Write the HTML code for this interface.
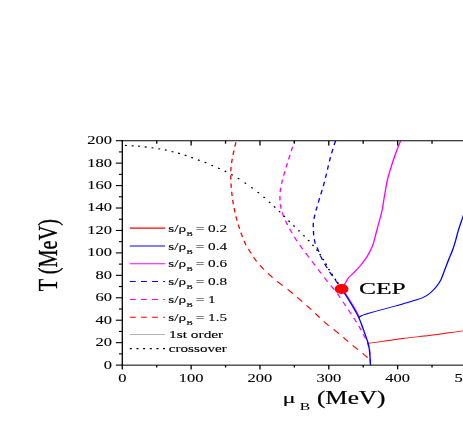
<!DOCTYPE html>
<html><head><meta charset="utf-8"><title>chart</title>
<style>html,body{margin:0;padding:0;background:#fff;}body{width:463px;height:436px;overflow:hidden;position:relative;font-family:"Liberation Serif",serif;}</style>
</head><body>
<svg width="463" height="436" viewBox="0 0 463 436" style="position:absolute;left:0;top:0;will-change:transform;font-family:'Liberation Serif',serif">
<rect width="463" height="436" fill="#fff"/>
<g transform="translate(122.3,0) scale(1.35,1)" fill="none" stroke-width="1.0" stroke-linejoin="round">
<path d="M181.85,343.40 C184.17,342.97 191.43,341.62 195.78,340.80 C200.12,339.98 203.93,339.20 207.93,338.50 C211.93,337.80 215.81,337.23 219.78,336.60 C223.74,335.97 228.00,335.33 231.70,334.70 C235.41,334.07 238.56,333.43 242.00,332.80 C245.44,332.17 249.78,331.37 252.37,330.90 C254.96,330.43 256.69,330.15 257.56,330.00" stroke="#ff0000" stroke-width="0.9"/>
<path d="M206.15,140.80 C205.58,142.75 203.83,148.50 202.74,152.50 C201.65,156.50 200.46,161.38 199.63,164.80 C198.80,168.22 198.33,170.42 197.78,173.00 C197.22,175.58 196.80,177.18 196.30,180.30 C195.79,183.42 195.17,188.42 194.74,191.70 C194.31,194.98 194.04,197.25 193.70,200.00 C193.37,202.75 193.15,205.37 192.74,208.20 C192.33,211.03 191.80,214.12 191.26,217.00 C190.72,219.88 190.07,222.57 189.48,225.50 C188.89,228.43 188.40,231.20 187.70,234.60 C187.01,238.00 186.32,242.42 185.33,245.90 C184.35,249.38 183.06,252.57 181.78,255.50 C180.49,258.43 179.31,260.68 177.63,263.50 C175.95,266.32 173.40,269.98 171.70,272.40 C170.01,274.82 168.56,276.23 167.48,278.00 C166.41,279.77 166.10,281.17 165.26,283.00 C164.42,284.83 162.91,288.00 162.44,289.00" stroke="#ff00ff"/>
<path d="M84.15,142.29 L84.09,142.64 L83.98,143.22 L83.87,143.84 L83.76,144.50 L83.63,145.19 L83.50,145.91 L83.37,146.66 L83.37,146.66 M82.71,150.50 L82.68,150.63 L82.55,151.44 L82.42,152.25 L82.29,153.05 L82.16,153.84 L82.04,154.62 L82.00,154.87 M81.47,158.71 L81.46,158.79 L81.38,159.42 L81.30,160.04 L81.23,160.65 L81.15,161.25 L81.08,161.85 L81.01,162.44 L80.95,163.03 L80.94,163.10 M80.58,166.94 L80.56,167.19 L80.52,167.81 L80.48,168.44 L80.44,169.08 L80.41,169.73 L80.39,170.40 L80.37,171.08 L80.36,171.33 M80.32,175.19 L80.32,175.54 L80.33,176.34 L80.34,177.15 L80.35,177.97 L80.37,178.80 L80.39,179.59 M80.52,183.45 L80.54,183.91 L80.58,184.78 L80.63,185.65 L80.67,186.52 L80.72,187.38 L80.75,187.84 M81.01,191.69 L81.07,192.50 L81.14,193.34 L81.21,194.17 L81.29,195.02 L81.36,195.86 L81.38,196.07 M81.78,199.92 L81.80,200.11 L81.89,200.96 L81.99,201.81 L82.09,202.66 L82.20,203.50 L82.30,204.30 M82.82,208.14 L82.87,208.50 L82.99,209.31 L83.11,210.12 L83.23,210.92 L83.35,211.71 L83.48,212.50 L83.48,212.52 M84.16,216.35 L84.17,216.39 L84.32,217.16 L84.47,217.92 L84.62,218.69 L84.78,219.44 L84.93,220.20 L85.04,220.72 M85.89,224.55 L85.90,224.59 L86.07,225.30 L86.23,226.00 L86.39,226.69 L86.55,227.37 L86.71,228.04 L86.87,228.71 L86.92,228.91 M87.88,232.74 L87.99,233.15 L88.15,233.77 L88.32,234.38 L88.49,234.98 L88.66,235.58 L88.82,236.17 L88.99,236.74 L89.09,237.10 M90.24,240.92 L90.24,240.92 L90.38,241.38 L90.51,241.81 L90.65,242.23 L90.77,242.62 L90.89,243.00 L91.00,243.34 L91.09,243.64 L91.17,243.90 L91.24,244.12 L91.30,244.31 L91.35,244.48 L91.40,244.62 L91.44,244.74 L91.47,244.85 L91.51,244.95 L91.55,245.04 L91.58,245.12 L91.62,245.22 L91.65,245.26 M93.46,249.06 L93.61,249.39 L93.86,249.94 L94.12,250.51 L94.38,251.11 L94.66,251.72 L94.95,252.36 L95.25,253.01 L95.42,253.39 M97.24,257.18 L97.55,257.81 L97.91,258.50 L98.27,259.19 L98.63,259.88 L99.01,260.55 L99.38,261.22 L99.55,261.50 M101.94,265.27 L102.19,265.65 L102.62,266.28 L103.06,266.91 L103.51,267.55 L103.96,268.18 L104.42,268.81 L104.89,269.45 L104.97,269.57 M107.85,273.32 L108.26,273.84 L108.76,274.46 L109.26,275.07 L109.76,275.68 L110.26,276.29 L110.76,276.90 L111.26,277.50 L111.34,277.60 M114.69,281.34 L114.90,281.56 L115.44,282.13 L115.98,282.69 L116.53,283.25 L117.08,283.82 L117.62,284.38 L118.18,284.93 L118.73,285.50 L118.82,285.59 M122.43,289.32 L122.59,289.48 L123.14,290.06 L123.68,290.65 L124.22,291.25 L124.76,291.85 L125.30,292.45 L125.84,293.06 L126.31,293.58 M129.60,297.32 L129.62,297.35 L130.16,297.97 L130.70,298.59 L131.24,299.22 L131.78,299.85 L132.32,300.48 L132.86,301.11 L133.27,301.59 M136.42,305.33 L136.65,305.60 L137.19,306.25 L137.73,306.91 L138.29,307.59 L138.85,308.29 L139.43,309.00 L139.91,309.61 M142.89,313.36 L142.95,313.44 L143.53,314.18 L144.11,314.92 L144.68,315.65 L145.25,316.37 L145.81,317.08 L146.25,317.64 M149.24,321.39 L149.32,321.49 L149.74,322.01 L150.15,322.50 L150.53,322.95 L150.88,323.37 L151.22,323.76 L151.53,324.12 L151.82,324.45 L152.10,324.75 L152.36,325.04 L152.60,325.30 L152.83,325.55 L152.94,325.66 M156.54,329.39 L156.78,329.65 L157.04,329.93 L157.30,330.22 L157.57,330.51 L157.83,330.80 L158.10,331.09 L158.37,331.38 L158.64,331.68 L158.90,331.97 L159.18,332.27 L159.45,332.57 L159.72,332.87 L160.00,333.17 L160.27,333.48 L160.42,333.65 M163.72,337.39 L163.97,337.68 L164.27,338.03 L164.56,338.38 L164.86,338.73 L165.16,339.09 L165.46,339.45 L165.76,339.80 L166.06,340.16 L166.37,340.52 L166.67,340.88 L166.97,341.24 L167.28,341.60 L167.33,341.66 M170.61,345.40 L170.63,345.42 L170.94,345.77 L171.26,346.11 L171.58,346.46 L171.90,346.81 L172.23,347.15 L172.55,347.50 L172.87,347.84 L173.19,348.18 L173.51,348.52 L173.83,348.85 L174.14,349.19 L174.45,349.51 L174.59,349.66 M178.04,353.39 L178.09,353.44 L178.30,353.68 L178.50,353.90 L178.70,354.12 L178.89,354.34 L179.08,354.55 L179.26,354.75 L179.44,354.96 L179.61,355.15 L179.78,355.35 L179.94,355.54 L180.10,355.72 L180.26,355.90 L180.41,356.08 L180.56,356.26 L180.71,356.43 L180.85,356.60 L180.99,356.77 L181.13,356.94 L181.26,357.10 L181.39,357.26 L181.52,357.42 L181.64,357.58 L181.70,357.66" stroke="#ff0000"/>
<path d="M127.63,140.80 L127.51,141.29 L127.38,141.85 L127.22,142.49 L127.12,142.92 M126.19,146.75 L126.03,147.42 L125.79,148.39 L125.55,149.38 L125.31,150.40 L125.13,151.11 M124.22,154.94 L124.05,155.64 L123.80,156.69 L123.56,157.72 L123.32,158.73 L123.18,159.30 M122.30,163.13 L122.25,163.37 L122.05,164.25 L121.84,165.13 L121.64,166.02 L121.44,166.91 L121.31,167.49 M120.44,171.32 L120.44,171.33 L120.25,172.21 L120.06,173.07 L119.87,173.93 L119.68,174.78 L119.50,175.62 L119.49,175.69 M118.70,179.52 L118.68,179.62 L118.54,180.37 L118.40,181.10 L118.27,181.81 L118.15,182.50 L118.03,183.16 L117.93,183.80 L117.91,183.89 M117.34,187.73 L117.34,187.74 L117.28,188.24 L117.22,188.73 L117.17,189.22 L117.12,189.70 L117.08,190.17 L117.04,190.64 L117.00,191.11 L116.97,191.58 L116.94,192.05 L116.93,192.11 M116.79,195.97 L116.79,196.04 L116.78,196.55 L116.78,197.07 L116.77,197.58 L116.77,198.10 L116.78,198.61 L116.78,199.12 L116.79,199.63 L116.80,200.15 L116.81,200.37 M117.06,204.22 L117.06,204.29 L117.12,204.81 L117.18,205.34 L117.25,205.88 L117.32,206.41 L117.40,206.96 L117.48,207.50 L117.57,208.05 L117.66,208.59 L117.67,208.60 M118.45,212.43 L118.57,212.95 L118.71,213.50 L118.85,214.06 L118.99,214.62 L119.15,215.19 L119.31,215.76 L119.47,216.34 L119.60,216.79 M120.82,220.60 L120.82,220.60 L121.04,221.25 L121.27,221.91 L121.51,222.59 L121.77,223.29 L122.04,224.01 L122.32,224.74 L122.40,224.95 M123.93,228.75 L124.16,229.30 L124.48,230.08 L124.81,230.85 L125.14,231.62 L125.47,232.39 L125.77,233.09 M127.45,236.88 L127.71,237.45 L128.00,238.11 L128.30,238.75 L128.58,239.36 L128.86,239.95 L129.13,240.53 L129.39,241.08 L129.46,241.21 M131.40,245.00 L131.44,245.08 L131.69,245.55 L131.95,246.03 L132.21,246.51 L132.47,246.99 L132.74,247.48 L133.02,247.98 L133.30,248.49 L133.58,249.01 L133.75,249.32 M135.84,253.10 L135.84,253.12 L136.21,253.77 L136.58,254.43 L136.96,255.11 L137.34,255.79 L137.73,256.48 L138.13,257.18 L138.26,257.42 M140.41,261.20 L140.54,261.42 L140.94,262.13 L141.34,262.83 L141.74,263.53 L142.13,264.21 L142.52,264.89 L142.87,265.51 M145.01,269.29 L145.06,269.38 L145.41,270.01 L145.77,270.64 L146.12,271.26 L146.47,271.89 L146.81,272.51 L147.16,273.12 L147.43,273.61 M149.56,277.39 L149.78,277.78 L150.09,278.32 L150.39,278.85 L150.68,279.36 L150.97,279.85 L151.25,280.34 L151.52,280.80 L151.78,281.25 L152.03,281.68 L152.04,281.70 M154.37,285.48 L154.40,285.52 L154.59,285.81 L154.77,286.08 L154.94,286.36 L155.11,286.62 L155.28,286.88 L155.44,287.13 L155.60,287.38 L155.76,287.63 L155.92,287.88 L156.07,288.12 L156.22,288.36 L156.37,288.60 L156.51,288.83 L156.65,289.05 L156.77,289.24 L156.89,289.43 L156.99,289.60 L157.10,289.76 L157.11,289.78 M159.29,293.56 L159.37,293.70 L159.54,294.03 L159.72,294.38 L159.90,294.73 L160.09,295.10 L160.29,295.47 L160.48,295.86 L160.68,296.25 L160.88,296.65 L161.09,297.05 L161.29,297.46 L161.50,297.86 L161.51,297.88 M163.42,301.67 L163.48,301.80 L163.66,302.16 L163.84,302.51 L164.02,302.86 L164.19,303.21 L164.36,303.56 L164.54,303.90 L164.71,304.25 L164.88,304.59 L165.05,304.93 L165.22,305.27 L165.38,305.61 L165.55,305.94 L165.57,305.99 M167.45,309.78 L167.56,310.00 L167.73,310.34 L167.90,310.69 L168.06,311.03 L168.23,311.37 L168.40,311.71 L168.57,312.05 L168.74,312.40 L168.91,312.74 L169.08,313.08 L169.25,313.42 L169.42,313.76 L169.59,314.11 L169.59,314.11 M171.44,317.90 L171.46,317.94 L171.63,318.30 L171.80,318.66 L171.97,319.02 L172.14,319.38 L172.31,319.75 L172.49,320.11 L172.66,320.48 L172.83,320.85 L173.01,321.22 L173.18,321.59 L173.35,321.97 L173.47,322.23 M175.19,326.03 L175.22,326.08 L175.38,326.46 L175.54,326.83 L175.70,327.20 L175.86,327.57 L176.02,327.95 L176.18,328.33 L176.34,328.71 L176.50,329.09 L176.66,329.47 L176.81,329.86 L176.97,330.24 L177.02,330.36 M178.52,334.17 L178.60,334.38 L178.74,334.73 L178.88,335.08 L179.01,335.43 L179.13,335.77 L179.26,336.10 L179.38,336.43 L179.50,336.75 L179.62,337.06 L179.74,337.37 L179.85,337.67 L179.96,337.98 L180.07,338.27 L180.16,338.51 M181.44,342.32 L181.47,342.45 L181.55,342.72 L181.63,343.00 L181.70,343.28 L181.78,343.56 L181.85,343.84 L181.91,344.12 L181.98,344.40 L182.04,344.67 L182.10,344.95 L182.16,345.23 L182.22,345.51 L182.27,345.78 L182.32,346.06 L182.37,346.33 L182.42,346.60 L182.44,346.69 M183.03,350.52 L183.05,350.65 L183.07,350.86 L183.10,351.07 L183.12,351.27 L183.14,351.47 L183.16,351.67 L183.18,351.88 L183.20,352.08 L183.22,352.29 L183.23,352.50 L183.25,352.72 L183.27,352.94 L183.28,353.17 L183.30,353.41 L183.32,353.66 L183.33,353.92 L183.35,354.20 L183.37,354.48 L183.39,354.78 L183.40,354.91 M183.59,358.76 L183.60,358.97 L183.62,359.46 L183.64,359.96 L183.66,360.45 L183.68,360.94 L183.70,361.42 L183.72,361.89 L183.74,362.34 L183.76,362.78 L183.77,363.16" stroke="#ff00ff"/>
<path d="M163.00,288.75 C163.60,289.97 165.35,293.35 166.63,296.05 C167.91,298.75 169.58,302.42 170.70,304.95 C171.83,307.48 172.52,309.15 173.37,311.25 C174.22,313.35 175.41,316.50 175.81,317.55" stroke="#ff00ff" stroke-width="0.8"/>
<path d="M162.44,289.00 C163.05,290.22 164.79,293.60 166.07,296.30 C167.36,299.00 169.02,302.67 170.15,305.20 C171.27,307.73 171.96,309.40 172.81,311.50 C173.67,313.60 174.52,315.63 175.26,317.80 C176.00,319.97 176.63,322.25 177.26,324.50 C177.89,326.75 178.44,329.05 179.04,331.30 C179.63,333.55 180.30,335.98 180.81,338.00 C181.33,340.02 181.78,341.48 182.15,343.40 C182.52,345.32 182.83,347.55 183.04,349.50 C183.25,351.45 183.27,352.50 183.41,355.10 C183.54,357.70 183.78,363.43 183.85,365.10" stroke="#0000ff"/>
<path d="M175.26,317.80 L176.22,316.50 L178.15,315.10" stroke="#0000ff"/>
<path d="M178.15,315.10 C178.79,314.83 179.77,314.37 182.00,313.50 C184.23,312.63 188.36,311.08 191.56,309.90 C194.75,308.72 197.99,307.58 201.19,306.40 C204.38,305.22 208.14,303.83 210.74,302.80 C213.35,301.77 214.98,300.98 216.81,300.20 C218.65,299.42 220.30,298.92 221.78,298.10 C223.26,297.28 224.52,296.32 225.70,295.30 C226.89,294.28 227.72,293.47 228.89,292.00 C230.06,290.53 231.54,288.57 232.74,286.50 C233.94,284.43 235.10,282.25 236.07,279.60 C237.05,276.95 237.67,273.87 238.59,270.60 C239.52,267.33 240.62,263.43 241.63,260.00 C242.64,256.57 243.80,253.17 244.67,250.00 C245.53,246.83 246.11,244.25 246.81,241.00 C247.52,237.75 247.96,234.58 248.89,230.50 C249.81,226.42 250.93,222.25 252.37,216.50 C253.81,210.75 256.69,199.42 257.56,196.00" stroke="#0000ff"/>
<path d="M157.93,140.80 L157.84,141.17 L157.75,141.58 L157.64,142.03 L157.52,142.52 L157.40,143.05 L157.26,143.61 L157.12,144.20 L156.97,144.82 L156.91,145.10 M156.01,148.93 L155.97,149.11 L155.79,149.90 L155.60,150.70 L155.42,151.52 L155.23,152.35 L155.05,153.19 L155.03,153.30 M154.22,157.13 L154.15,157.50 L153.97,158.39 L153.80,159.31 L153.62,160.26 L153.44,161.24 L153.39,161.50 M152.71,165.33 L152.69,165.40 L152.50,166.49 L152.31,167.58 L152.12,168.68 L151.95,169.70 M151.28,173.54 L151.16,174.23 L150.96,175.32 L150.77,176.41 L150.58,177.48 L150.50,177.91 M149.78,181.75 L149.63,182.50 L149.44,183.43 L149.25,184.35 L149.06,185.26 L148.88,186.11 M148.03,189.94 L147.91,190.48 L147.72,191.31 L147.53,192.15 L147.34,192.97 L147.15,193.79 L147.02,194.31 M146.14,198.14 L146.04,198.58 L145.86,199.37 L145.69,200.15 L145.52,200.94 L145.35,201.72 L145.19,202.50 L145.18,202.50 M144.37,206.33 L144.36,206.39 L144.19,207.17 L144.03,207.94 L143.86,208.70 L143.70,209.47 L143.54,210.22 L143.44,210.70 M142.68,214.53 L142.66,214.63 L142.53,215.34 L142.41,216.04 L142.29,216.72 L142.18,217.40 L142.08,218.07 L141.98,218.72 L141.96,218.91 M141.56,222.75 L141.55,222.97 L141.51,223.54 L141.49,224.09 L141.47,224.63 L141.46,225.16 L141.45,225.69 L141.44,226.21 L141.44,226.72 L141.45,227.15 M141.57,231.00 L141.57,231.09 L141.59,231.56 L141.61,232.03 L141.63,232.50 L141.65,232.97 L141.67,233.43 L141.70,233.90 L141.73,234.36 L141.76,234.82 L141.80,235.27 L141.81,235.39 M142.22,239.24 L142.27,239.56 L142.32,239.95 L142.38,240.34 L142.44,240.72 L142.50,241.09 L142.56,241.46 L142.62,241.81 L142.68,242.16 L142.74,242.50 L142.80,242.82 L142.86,243.12 L142.92,243.40 L142.97,243.61 M144.24,247.43 L144.27,247.51 L144.37,247.82 L144.48,248.15 L144.59,248.50 L144.71,248.87 L144.83,249.26 L144.95,249.67 L145.08,250.09 L145.21,250.52 L145.34,250.96 L145.48,251.42 L145.59,251.78 M146.76,255.60 L146.86,255.89 L147.02,256.41 L147.20,256.93 L147.37,257.44 L147.55,257.96 L147.73,258.48 L147.92,258.99 L148.11,259.50 L148.27,259.94 M149.83,263.74 L150.01,264.17 L150.24,264.70 L150.48,265.24 L150.72,265.78 L150.96,266.31 L151.20,266.85 L151.44,267.38 L151.69,267.92 L151.76,268.08 M153.55,271.87 L153.62,272.02 L153.85,272.50 L154.09,272.98 L154.32,273.46 L154.56,273.94 L154.81,274.42 L155.05,274.90 L155.30,275.37 L155.55,275.84 L155.73,276.19 M157.78,279.98 L157.97,280.33 L158.20,280.74 L158.41,281.14 L158.63,281.53 L158.83,281.92 L159.03,282.29 L159.22,282.65 L159.41,283.00 L159.58,283.34 L159.76,283.68 L159.93,284.01 L160.08,284.30 M161.99,288.09 L162.05,288.22 L162.14,288.40 L162.23,288.57 L162.31,288.72 L162.38,288.87 L162.44,289.00" stroke="#0000ff"/>
<path d="M1.95,145.34 L3.38,145.46 M6.91,145.74 L8.35,145.86 M11.73,146.11 L13.16,146.29 M16.62,146.88 L18.04,147.12 M21.66,147.77 L23.08,148.03 M26.63,148.74 L28.04,149.06 M31.53,149.90 L32.91,150.30 M36.50,151.47 L37.87,151.93 M41.33,153.14 L42.67,153.66 M46.23,155.11 L47.55,155.69 M51.06,157.38 L52.35,158.02 M56.02,159.88 L57.31,160.52 M60.92,162.16 L62.19,162.84 M65.97,165.14 L67.22,165.86 M70.94,167.93 L72.17,168.67 M75.81,171.00 L77.01,171.80 M80.68,174.37 L81.84,175.23 M85.60,178.24 L86.70,179.16 M90.58,182.61 L91.64,183.59 M95.64,187.39 L96.66,188.41 M100.25,192.07 L101.23,193.13 M104.57,196.85 L105.51,197.95 M108.66,201.74 L109.57,202.86 M112.41,206.43 L113.30,207.57 M116.08,211.13 L116.95,212.27 M119.57,215.82 L120.43,216.98 M123.12,220.62 L123.99,221.78 M126.75,225.43 L127.62,226.57 M130.45,230.33 L131.32,231.47 M134.16,235.22 L135.02,236.38 M137.70,240.01 L138.52,241.19 M140.87,244.74 L141.65,245.96 M143.87,249.47 L144.58,250.73 M146.24,254.05 L146.87,255.35 M148.58,258.95 L149.20,260.25 M150.76,263.54 L151.32,264.86 M152.83,268.94 L153.40,270.26 M155.10,273.65 L155.72,274.95 M157.46,278.75 L158.10,280.05 M159.29,282.26 L159.97,283.54" stroke="#000" stroke-width="1.15"/>
<path d="M5.56,228.1 H31.70" stroke="#ff0000" stroke-width="1.1"/>
<path d="M5.56,246.0 H31.70" stroke="#0000ff" stroke-width="1.1"/>
<path d="M5.56,263.7 H31.70" stroke="#ff00ff" stroke-width="1.1"/>
<path d="M5.56,281.45 H31.70" stroke="#0000ff" stroke-width="1.1" stroke-dasharray="4.4 3.85"/>
<path d="M5.56,299.45 H31.70" stroke="#ff00ff" stroke-width="1.1" stroke-dasharray="4.4 3.85"/>
<path d="M5.56,317.3 H31.70" stroke="#ff0000" stroke-width="1.1" stroke-dasharray="4.4 3.85"/>
<path d="M5.56,334.5 H31.70" stroke="#000" stroke-width="0.26"/>
<path d="M5.56,348.55 H31.70" stroke="#000" stroke-width="1.2" stroke-dasharray="1.5 3.43"/>
</g>
<ellipse cx="341.6" cy="289" rx="6.9" ry="5" fill="#ff0000"/>
<g stroke="#000" fill="none">
<path d="M122.3,140.14999999999998 V369.6" stroke-width="1.3"/>
<path d="M121.64999999999999,140.7 H463" stroke-width="1.1"/>
<path d="M121.64999999999999,365.15000000000003 H463" stroke-width="1.0"/>
<path d="M115.80,365.10 H122.3" stroke-width="1.1"/>
<path d="M118.90,353.88 H122.3" stroke-width="1.1"/>
<path d="M115.80,342.66 H122.3" stroke-width="1.1"/>
<path d="M118.90,331.44 H122.3" stroke-width="1.1"/>
<path d="M115.80,320.22 H122.3" stroke-width="1.1"/>
<path d="M118.90,309.00 H122.3" stroke-width="1.1"/>
<path d="M115.80,297.78 H122.3" stroke-width="1.1"/>
<path d="M118.90,286.56 H122.3" stroke-width="1.1"/>
<path d="M115.80,275.34 H122.3" stroke-width="1.1"/>
<path d="M118.90,264.12 H122.3" stroke-width="1.1"/>
<path d="M115.80,252.90 H122.3" stroke-width="1.1"/>
<path d="M118.90,241.68 H122.3" stroke-width="1.1"/>
<path d="M115.80,230.46 H122.3" stroke-width="1.1"/>
<path d="M118.90,219.24 H122.3" stroke-width="1.1"/>
<path d="M115.80,208.02 H122.3" stroke-width="1.1"/>
<path d="M118.90,196.80 H122.3" stroke-width="1.1"/>
<path d="M115.80,185.58 H122.3" stroke-width="1.1"/>
<path d="M118.90,174.36 H122.3" stroke-width="1.1"/>
<path d="M115.80,163.14 H122.3" stroke-width="1.1"/>
<path d="M118.90,151.92 H122.3" stroke-width="1.1"/>
<path d="M115.80,140.70 H122.3" stroke-width="1.1"/>
<path d="M156.72,365.1 V367.5" stroke-width="1.3"/>
<path d="M156.72,140.7 V143.7" stroke-width="1.3"/>
<path d="M191.13,365.1 V369.40000000000003" stroke-width="1.3"/>
<path d="M191.13,140.7 V145.54999999999998" stroke-width="1.3"/>
<path d="M225.55,365.1 V367.5" stroke-width="1.3"/>
<path d="M225.55,140.7 V143.7" stroke-width="1.3"/>
<path d="M259.96,365.1 V369.40000000000003" stroke-width="1.3"/>
<path d="M259.96,140.7 V145.54999999999998" stroke-width="1.3"/>
<path d="M294.38,365.1 V367.5" stroke-width="1.3"/>
<path d="M294.38,140.7 V143.7" stroke-width="1.3"/>
<path d="M328.79,365.1 V369.40000000000003" stroke-width="1.3"/>
<path d="M328.79,140.7 V145.54999999999998" stroke-width="1.3"/>
<path d="M363.20,365.1 V367.5" stroke-width="1.3"/>
<path d="M363.20,140.7 V143.7" stroke-width="1.3"/>
<path d="M397.62,365.1 V369.40000000000003" stroke-width="1.3"/>
<path d="M397.62,140.7 V145.54999999999998" stroke-width="1.3"/>
<path d="M432.04,365.1 V367.5" stroke-width="1.3"/>
<path d="M432.04,140.7 V143.7" stroke-width="1.3"/>
<path d="M466.45,365.1 V369.40000000000003" stroke-width="1.3"/>
<path d="M466.45,140.7 V145.54999999999998" stroke-width="1.3"/>
</g>
<text transform="translate(112.10,368.50) scale(1.31,1)" font-size="12.6" text-anchor="end" stroke="#000" stroke-width="0.1" >0</text>
<text transform="translate(112.10,346.06) scale(1.31,1)" font-size="12.6" text-anchor="end" stroke="#000" stroke-width="0.1" >20</text>
<text transform="translate(112.10,323.62) scale(1.31,1)" font-size="12.6" text-anchor="end" stroke="#000" stroke-width="0.1" >40</text>
<text transform="translate(112.10,301.18) scale(1.31,1)" font-size="12.6" text-anchor="end" stroke="#000" stroke-width="0.1" >60</text>
<text transform="translate(112.10,278.74) scale(1.31,1)" font-size="12.6" text-anchor="end" stroke="#000" stroke-width="0.1" >80</text>
<text transform="translate(112.10,256.30) scale(1.31,1)" font-size="12.6" text-anchor="end" stroke="#000" stroke-width="0.1" >100</text>
<text transform="translate(112.10,233.86) scale(1.31,1)" font-size="12.6" text-anchor="end" stroke="#000" stroke-width="0.1" >120</text>
<text transform="translate(112.10,211.42) scale(1.31,1)" font-size="12.6" text-anchor="end" stroke="#000" stroke-width="0.1" >140</text>
<text transform="translate(112.10,188.98) scale(1.31,1)" font-size="12.6" text-anchor="end" stroke="#000" stroke-width="0.1" >160</text>
<text transform="translate(112.10,166.54) scale(1.31,1)" font-size="12.6" text-anchor="end" stroke="#000" stroke-width="0.1" >180</text>
<text transform="translate(112.10,144.10) scale(1.31,1)" font-size="12.6" text-anchor="end" stroke="#000" stroke-width="0.1" >200</text>
<text transform="translate(122.30,382.20) scale(1.31,1)" font-size="12.6" text-anchor="middle" stroke="#000" stroke-width="0.1" >0</text>
<text transform="translate(191.13,382.20) scale(1.31,1)" font-size="12.6" text-anchor="middle" stroke="#000" stroke-width="0.1" >100</text>
<text transform="translate(259.96,382.20) scale(1.31,1)" font-size="12.6" text-anchor="middle" stroke="#000" stroke-width="0.1" >200</text>
<text transform="translate(328.79,382.20) scale(1.31,1)" font-size="12.6" text-anchor="middle" stroke="#000" stroke-width="0.1" >300</text>
<text transform="translate(397.62,382.20) scale(1.31,1)" font-size="12.6" text-anchor="middle" stroke="#000" stroke-width="0.1" >400</text>
<text transform="translate(454.50,382.20) scale(1.31,1)" font-size="12.6" text-anchor="start" stroke="#000" stroke-width="0.1" >5</text>
<text transform="translate(282.40,403.10) scale(1.6,1)" font-size="15.4" text-anchor="start" stroke="#000" stroke-width="0.1" >μ</text>
<text transform="translate(299.70,410.20) scale(1.43,1)" font-size="11" text-anchor="start" stroke="#000" stroke-width="0.05" >B</text>
<text transform="translate(316.90,403.60) scale(1.34,1)" font-size="18.8" text-anchor="start" stroke="#000" stroke-width="0.25" >(MeV)</text>
<text transform="translate(56.8,291.3) rotate(-90) scale(1,1.34)" font-size="20.3" stroke="#000" stroke-width="0.25">T (MeV)</text>
<text transform="translate(359.00,294.20) scale(1.5,1)" font-size="17" text-anchor="start" stroke="#000" stroke-width="0.2" >CEP</text>
<text transform="translate(168.30,231.80) scale(1.345,1)" font-size="11.3" text-anchor="start" stroke="#000" stroke-width="0.12" >s/ρ</text>
<text transform="translate(186.60,235.80) scale(1.5,1)" font-size="6.2" text-anchor="start" stroke="#000" stroke-width="0.14" >B</text>
<text transform="translate(195.70,231.80) scale(1.345,1)" font-size="11.3" text-anchor="start" stroke="#000" stroke-width="0.12" >= 0.2</text>
<text transform="translate(168.30,249.70) scale(1.345,1)" font-size="11.3" text-anchor="start" stroke="#000" stroke-width="0.12" >s/ρ</text>
<text transform="translate(186.60,253.70) scale(1.5,1)" font-size="6.2" text-anchor="start" stroke="#000" stroke-width="0.14" >B</text>
<text transform="translate(195.70,249.70) scale(1.345,1)" font-size="11.3" text-anchor="start" stroke="#000" stroke-width="0.12" >= 0.4</text>
<text transform="translate(168.30,267.40) scale(1.345,1)" font-size="11.3" text-anchor="start" stroke="#000" stroke-width="0.12" >s/ρ</text>
<text transform="translate(186.60,271.40) scale(1.5,1)" font-size="6.2" text-anchor="start" stroke="#000" stroke-width="0.14" >B</text>
<text transform="translate(195.70,267.40) scale(1.345,1)" font-size="11.3" text-anchor="start" stroke="#000" stroke-width="0.12" >= 0.6</text>
<text transform="translate(168.30,285.15) scale(1.345,1)" font-size="11.3" text-anchor="start" stroke="#000" stroke-width="0.12" >s/ρ</text>
<text transform="translate(186.60,289.15) scale(1.5,1)" font-size="6.2" text-anchor="start" stroke="#000" stroke-width="0.14" >B</text>
<text transform="translate(195.70,285.15) scale(1.345,1)" font-size="11.3" text-anchor="start" stroke="#000" stroke-width="0.12" >= 0.8</text>
<text transform="translate(168.30,303.15) scale(1.345,1)" font-size="11.3" text-anchor="start" stroke="#000" stroke-width="0.12" >s/ρ</text>
<text transform="translate(186.60,307.15) scale(1.5,1)" font-size="6.2" text-anchor="start" stroke="#000" stroke-width="0.14" >B</text>
<text transform="translate(195.70,303.15) scale(1.345,1)" font-size="11.3" text-anchor="start" stroke="#000" stroke-width="0.12" >= 1</text>
<text transform="translate(168.30,321.00) scale(1.345,1)" font-size="11.3" text-anchor="start" stroke="#000" stroke-width="0.12" >s/ρ</text>
<text transform="translate(186.60,325.00) scale(1.5,1)" font-size="6.2" text-anchor="start" stroke="#000" stroke-width="0.14" >B</text>
<text transform="translate(195.70,321.00) scale(1.345,1)" font-size="11.3" text-anchor="start" stroke="#000" stroke-width="0.12" >= 1.5</text>
<text transform="translate(169.10,338.00) scale(1.36,1)" font-size="11.3" text-anchor="start" stroke="#000" stroke-width="0.12" >1st order</text>
<text transform="translate(168.80,352.10) scale(1.34,1)" font-size="11.3" text-anchor="start" stroke="#000" stroke-width="0.12" >crossover</text>
</svg>
</body></html>
